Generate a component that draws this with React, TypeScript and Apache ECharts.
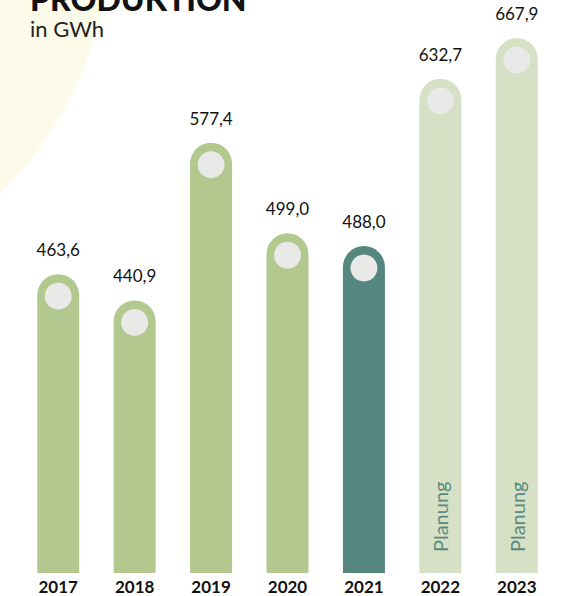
import React, { useEffect, useRef } from "react";
import * as echarts from "echarts";

const years = ["2017", "2018", "2019", "2020", "2021", "2022", "2023"];
const values = [463.6, 440.9, 577.4, 499.0, 488.0, 632.7, 667.9];
const planned = [false, false, false, false, false, true, true];
const current = "2021";

const fmt = (v: number) => v.toFixed(1).replace(".", ",");

export default function App() {
  const ref = useRef<HTMLDivElement>(null);
  useEffect(() => {
    if (!ref.current) return;
    const chart = echarts.init(ref.current, null, { renderer: "svg" });
    const font = "Lato, 'Open Sans', sans-serif";
    const barData = values.map((v, i) => ({
      value: v,
      itemStyle: {
        color: planned[i] ? "#d5e0c4" : years[i] === current ? "#568680" : "#b3c88f",
      },
    }));
    chart.setOption({
      animation: false,
      backgroundColor: "#ffffff",
      graphic: [
        {
          type: "circle",
          shape: { cx: -285, cy: -84, r: 399 },
          style: { fill: "#fcfbea" },
          z: -10,
        },
        {
          type: "text",
          left: 30,
          top: -18,
          style: { text: "PRODUKTION", fontSize: 32, fontWeight: 900, fill: "#111", fontFamily: font, lineHeight: 30 },
        },
        {
          type: "text",
          left: 30,
          top: 16,
          style: { text: "in GWh", fontSize: 22, fill: "#222", fontFamily: font, lineHeight: 24 },
        },
      ],
      grid: { left: 20, right: 11, top: 1, bottom: 23, containLabel: false },
      xAxis: {
        type: "category",
        data: years,
        axisLine: { show: false },
        axisTick: { show: false },
        axisLabel: {
          color: "#111",
          fontWeight: "bold",
          fontSize: 17,
          fontFamily: font,
          margin: 5,
        },
      },
      yAxis: {
        type: "value",
        min: 205,
        max: 700,
        show: false,
      },
      series: [
        {
          type: "bar",
          data: barData,
          barWidth: 42,
          itemStyle: { borderRadius: [21, 21, 0, 0] },
          label: {
            show: true,
            position: "top",
            distance: 16,
            color: "#111",
            fontSize: 17,
            fontFamily: font,
            formatter: (p: any) => fmt(p.value),
          },
          z: 2,
        },
        {
          type: "bar",
          data: values.map((v, i) => (planned[i] ? v : null)),
          barWidth: 42,
          barGap: "-100%",
          itemStyle: { color: "transparent" },
          label: {
            show: true,
            position: "insideBottom",
            rotate: 90,
            align: "left",
            verticalAlign: "middle",
            distance: 21,
            color: "#5a8a80",
            fontSize: 20,
            fontFamily: font,
            formatter: () => "Planung",
          },
          z: 3,
        },
        {
          type: "scatter",
          data: values,
          symbol: "circle",
          symbolSize: 27,
          symbolOffset: [0, 22],
          itemStyle: { color: "#e9e9e7", opacity: 1 },
          z: 4,
        },
      ],
    });
    return () => chart.dispose();
  }, []);
  return (
    <div
      ref={ref}
      style={{ position: "absolute", left: 0, top: 0, width: 566, height: 596 }}
    />
  );
}
